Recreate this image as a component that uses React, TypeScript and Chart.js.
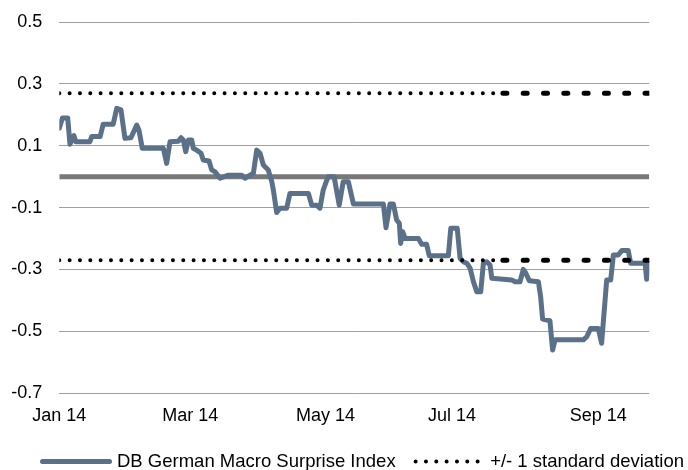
import React, { useEffect, useRef } from 'react';
import { Chart, registerables } from 'chart.js';

Chart.register(...registerables);

// x positions are day offsets from 1 Jan 2014
const xTickDays = [0, 59, 120, 177, 243];
const xTickLabels = ['Jan 14', 'Mar 14', 'May 14', 'Jul 14', 'Sep 14'];
const yTicks = [-0.7, -0.5, -0.3, -0.1, 0.1, 0.3, 0.5];

const surpriseDays = [
  0, 1.4, 3.8, 4.8, 6.6, 7.4, 13.8, 14.6, 18.4, 19.8, 24.3, 25.9, 27.8, 29.6, 32.3, 34.9, 35.9, 37.4,
  46.9, 48.4, 49.9, 53.7, 54.9, 55.9, 57.0, 58.2, 59.7, 60.4, 61.9, 63.9, 64.9, 67.5, 68.7, 70.2,
  72.5, 76.2, 82.2, 83.7, 86.0, 87.5, 89.0, 90.5, 92.0, 94.2, 95.8, 96.5, 98.0, 99.5, 102.5, 104.0,
  112.3, 113.8, 116.1, 117.5, 119.0, 120.6, 121.3, 123.9, 126.2, 128.0, 130.3, 132.6, 146.1, 147.3,
  149.1, 150.6, 152.1, 153.3, 153.9, 154.8, 155.9, 161.9, 163.4, 165.6, 166.8, 175.4, 176.5, 179.4,
  180.7, 182.1, 183.7, 185.2, 186.7, 188.2, 190.0, 191.2, 192.7, 194.2, 195.0, 204.0, 205.5, 207.7,
  209.2, 210.4, 211.9, 216.0, 217.0, 217.9, 221.2, 222.4, 223.5, 236.3, 237.8, 239.6, 243.0, 244.5,
  246.8, 248.6, 249.8, 252.0, 253.6, 256.5, 257.6, 264.1, 264.8, 266.0,
];
const surpriseValues = [
  0.157, 0.19, 0.19, 0.105, 0.133, 0.113, 0.113, 0.13, 0.13, 0.17, 0.17, 0.221, 0.216, 0.124, 0.126, 0.167, 0.151, 0.092,
  0.092, 0.043, 0.113, 0.115, 0.126, 0.119, 0.081, 0.119, 0.119, 0.092, 0.086, 0.076, 0.054, 0.051, 0.022, 0.016,
  -0.005, 0.005, 0.005, -0.005, 0.005, 0.011, 0.086, 0.076, 0.038, 0.022, -0.016, -0.043, -0.116, -0.102, -0.102, -0.054,
  -0.054, -0.092, -0.092, -0.102, -0.043, -0.011, 0, 0, -0.092, -0.016, -0.016, -0.088, -0.088, -0.165,
  -0.088, -0.088, -0.14, -0.151, -0.216, -0.178, -0.2, -0.2, -0.219, -0.219, -0.256, -0.256, -0.167, -0.167,
  -0.264, -0.275, -0.28, -0.296, -0.34, -0.372, -0.372, -0.28, -0.275, -0.286, -0.329, -0.334, -0.34, -0.34,
  -0.3, -0.313, -0.337, -0.34, -0.388, -0.461, -0.466, -0.561, -0.528, -0.528, -0.518, -0.491, -0.491, -0.539,
  -0.334, -0.334, -0.253, -0.253, -0.239, -0.239, -0.28, -0.28, -0.332, -0.28,
];

const sdValue = 0.27;
const sdDottedDays = [0, 200];
const sdDashedDays = [200, 266];
const zeroDays = [0, 266];

const seriesLabel = 'DB German Macro Surprise Index';
const sdLabel = '+/- 1 standard deviation';

const FONT = "'Liberation Sans', Arial, sans-serif";
const SERIES_COLOR = '#5b7189';
const DOT_DASH = [0, 10.33];

const legendEntries = [
  { text: seriesLabel, color: SERIES_COLOR, width: 5, dash: [] as number[] },
  { text: sdLabel, color: '#000', width: 4, dash: DOT_DASH },
];

const legendPlugin = {
  id: 'bottomLegend',
  afterDraw(chart: any) {
    const ctx = chart.ctx as CanvasRenderingContext2D;
    ctx.save();
    ctx.font = `18.5px ${FONT}`;
    ctx.textBaseline = 'middle';
    ctx.textAlign = 'left';
    const y = 461.5;
    const sample = 67;
    let x = 42.5;
    legendEntries.forEach((e) => {
      ctx.beginPath();
      ctx.lineWidth = e.width;
      ctx.strokeStyle = e.color;
      ctx.lineCap = 'round';
      ctx.setLineDash(e.dash);
      ctx.moveTo(x, y);
      ctx.lineTo(x + sample, y);
      ctx.stroke();
      ctx.setLineDash([]);
      const tx = x + sample + 7.5;
      ctx.fillStyle = '#000';
      ctx.fillText(e.text, tx, y);
      x = tx + ctx.measureText(e.text).width + 20;
    });
    ctx.restore();
  },
};

export default function App() {
  const ref = useRef<HTMLCanvasElement>(null);

  useEffect(() => {
    if (!ref.current) return;
    const toPts = (days: number[], val: (i: number) => number) => days.map((d, i) => ({ x: d, y: val(i) }));
    const dotted = { borderColor: '#000', borderWidth: 4, borderDash: DOT_DASH, borderCapStyle: 'round' as const };
    const dashed = { borderColor: '#000', borderWidth: 5, borderDash: [4, 16.3], borderCapStyle: 'round' as const };
    const chart = new Chart(ref.current, {
      type: 'line',
      data: {
        datasets: [
          { label: sdLabel, data: toPts(sdDottedDays, () => sdValue), ...dotted },
          { label: 'sd-up-dash', data: toPts(sdDashedDays, () => sdValue), ...dashed },
          { label: 'sd-lo', data: toPts(sdDottedDays, () => -sdValue), ...dotted },
          { label: 'sd-lo-dash', data: toPts(sdDashedDays, () => -sdValue), ...dashed },
          {
            label: seriesLabel,
            data: toPts(surpriseDays, (i) => surpriseValues[i]),
            borderColor: SERIES_COLOR,
            borderWidth: 5,
            borderJoinStyle: 'round',
            borderCapStyle: 'round',
          },
          { label: 'zero', data: toPts(zeroDays, () => 0), borderColor: '#787878', borderWidth: 5 },
        ],
      },
      options: {
        responsive: false,
        animation: false,
        events: [],
        elements: { point: { radius: 0 }, line: { tension: 0 } },
        layout: { padding: { left: 0, right: 38.7, top: 22.2, bottom: 0 } },
        scales: {
          x: {
            type: 'linear',
            min: 0,
            max: 266,
            afterBuildTicks: (axis: any) => {
              axis.ticks = xTickDays.map((v) => ({ value: v }));
            },
            afterFit: (axis: any) => {
              axis.paddingLeft = 0;
              axis.paddingRight = 0;
              axis.height = 77;
            },
            ticks: {
              autoSkip: false,
              maxRotation: 0,
              padding: 12,
              color: '#000',
              font: { family: FONT, size: 18 },
              callback: (_v: any, i: number) => xTickLabels[i],
            },
            grid: { display: false, drawTicks: false },
            border: { display: false },
          },
          y: {
            min: -0.7,
            max: 0.5,
            afterBuildTicks: (axis: any) => {
              axis.ticks = yTicks.map((v) => ({ value: v }));
            },
            afterFit: (axis: any) => {
              axis.width = 59.3;
              axis.paddingTop = 0;
              axis.paddingBottom = 0;
            },
            ticks: {
              padding: 17,
              color: '#000',
              font: { family: FONT, size: 18 },
              callback: (v: any) => Number(v).toFixed(1),
            },
            grid: { color: '#a0a0a0', lineWidth: 1, drawTicks: false },
            border: { display: false },
          },
        },
        plugins: {
          tooltip: { enabled: false },
          legend: { display: false },
        },
      },
      plugins: [legendPlugin],
    });
    return () => chart.destroy();
  }, []);

  return (
    <div style={{ position: 'absolute', left: 0, top: 0, width: 688, height: 470, background: '#fff' }}>
      <canvas ref={ref} width={688} height={470} style={{ display: 'block' }} />
    </div>
  );
}
